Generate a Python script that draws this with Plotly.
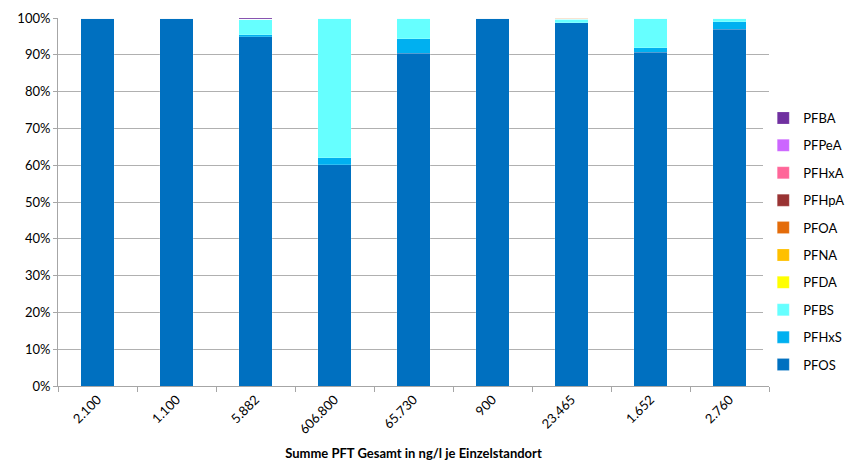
import plotly.graph_objects as go

# Sum of PFT per site (ng/l), used as category labels
standorte = ["2.100", "1.100", "5.882", "606.800", "65.730", "900", "23.465", "1.652", "2.760"]

# Share of each compound in the total (percent)
pfos  = [100.0, 100.0, 94.9, 60.1, 90.4, 100.0, 98.7, 90.7, 96.9]
pfhxs = [0.0,   0.0,   0.5,  1.9,  3.9,  0.0,   0.0,  1.2,  2.1]
pfbs  = [0.0,   0.0,   4.2,  38.0, 5.7,  0.0,   1.0,  8.1,  1.0]
pfda  = [0.0,   0.0,   0.0,  0.0,  0.0,  0.0,   0.0,  0.0,  0.0]
pfna  = [0.0,   0.0,   0.0,  0.0,  0.0,  0.0,   0.0,  0.0,  0.0]
pfoa  = [0.0,   0.0,   0.0,  0.0,  0.0,  0.0,   0.3,  0.0,  0.0]
pfhpa = [0.0,   0.0,   0.0,  0.0,  0.0,  0.0,   0.0,  0.0,  0.0]
pfhxa = [0.0,   0.0,   0.0,  0.0,  0.0,  0.0,   0.0,  0.0,  0.0]
pfpea = [0.0,   0.0,   0.0,  0.0,  0.0,  0.0,   0.0,  0.0,  0.0]
pfba  = [0.0,   0.0,   0.4,  0.0,  0.0,  0.0,   0.0,  0.0,  0.0]

# Stacked bottom to top
series = [
    ("PFOS",  pfos,  "#0070C0"),
    ("PFHxS", pfhxs, "#00B0F0"),
    ("PFBS",  pfbs,  "#66FFFF"),
    ("PFDA",  pfda,  "#FFFF00"),
    ("PFNA",  pfna,  "#FFC000"),
    ("PFOA",  pfoa,  "#E46C0A"),
    ("PFHpA", pfhpa, "#993333"),
    ("PFHxA", pfhxa, "#FF6699"),
    ("PFPeA", pfpea, "#CC66FF"),
    ("PFBA",  pfba,  "#7030A0"),
]

font_family = "Lato, Open Sans, sans-serif"

fig = go.Figure()
n = len(series)
for i, (name, vals, color) in enumerate(series):
    fig.add_trace(go.Bar(
        x=standorte, y=vals, name=name, legendgroup=name,
        legendrank=n - i,  # top of the stack listed first
        marker=dict(color=color, line=dict(color="rgba(255,255,255,0.35)", width=0.5)),
    ))

fig.update_layout(
    width=849, height=464,
    margin=dict(l=58, r=80, t=18, b=78, autoexpand=False),
    barmode="stack",
    bargap=0.57,
    plot_bgcolor="white",
    paper_bgcolor="white",
    font=dict(family=font_family, size=12, color="#000000"),
    legend=dict(
        traceorder="grouped",
        xref="container", yref="container",
        x=0.899, xanchor="left", y=0.778, yanchor="top",
        font=dict(size=13),
        tracegroupgap=7.5,
        itemwidth=30,
        maxheight=360,
    ),
    xaxis=dict(
        title=dict(text="<b>Summe PFT Gesamt in ng/l je Einzelstandort</b>",
                   font=dict(size=13), standoff=12),
        tickangle=-45,
        tickfont=dict(size=13),
        ticks="outside", tickson="boundaries", ticklen=5, tickcolor="#A6A6A6",
        showline=True, linecolor="#A6A6A6", linewidth=1,
        showgrid=False,
    ),
    yaxis=dict(
        range=[0, 100], dtick=10, ticksuffix="%",
        tickfont=dict(size=13),
        ticks="outside", ticklen=4, tickcolor="#A6A6A6",
        showline=True, linecolor="#A6A6A6", linewidth=1,
        showgrid=True, gridcolor="#B0B0B0", gridwidth=1,
        zeroline=False,
    ),
)

fig.write_html("out.html")
